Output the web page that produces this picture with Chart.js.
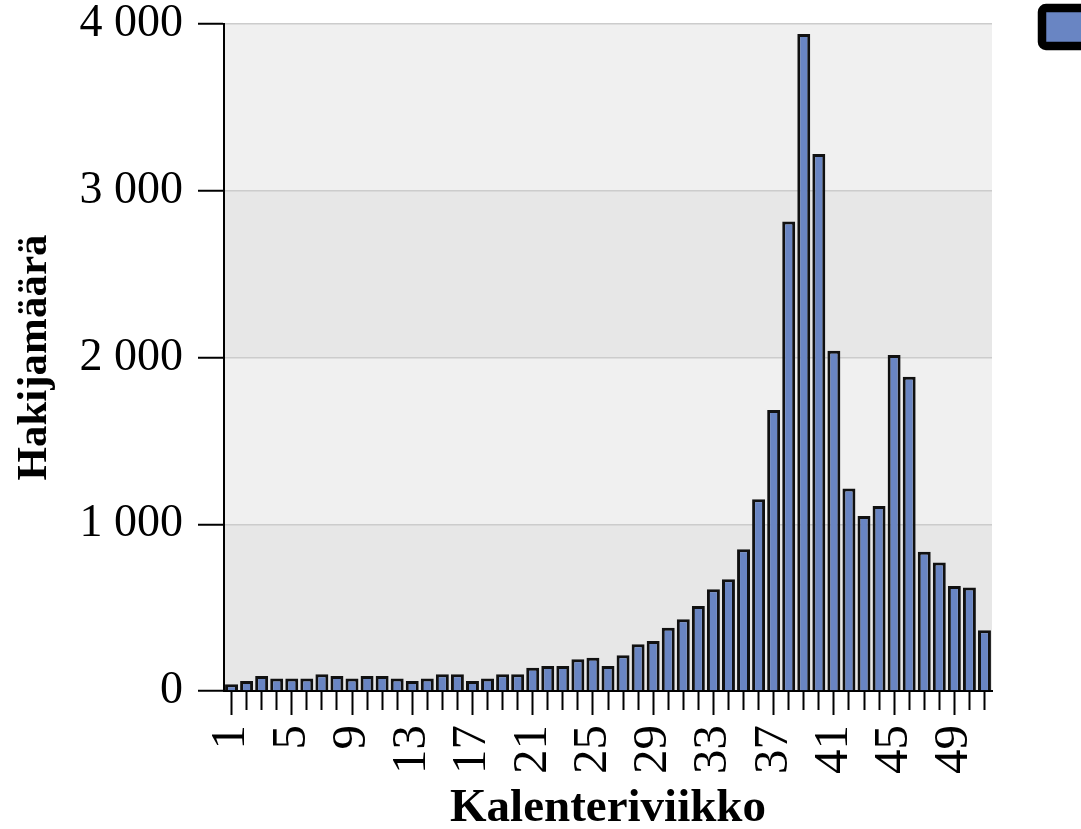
<!DOCTYPE html>
<html>
<head>
<meta charset="utf-8">
<script src="https://cdn.jsdelivr.net/npm/chart.js@4.4.0/dist/chart.umd.min.js"></script>
<style>
  html, body { margin: 0; padding: 0; background: #fff; overflow: hidden; }
  /* a bit wider than the window so the legend swatch is cut at the right edge */
  #wrap { position: relative; width: 1108px; height: 829px; }
</style>
</head>
<body>
<div id="wrap"><canvas id="chart"></canvas></div>
<script>
// calendar weeks shown on the x axis
const weeks = [1, 2, 3, 4, 5, 6, 7, 8, 9, 10, 11, 12, 13, 14, 15, 16, 17, 18, 19, 20,
               21, 22, 23, 24, 25, 26, 27, 28, 29, 30, 31, 32, 33, 34, 35, 36, 37, 38, 39, 40,
               41, 42, 43, 44, 45, 46, 47, 48, 49, 50, 51];
// applicants per week
const applicants = [40, 60, 90, 75, 75, 75, 100, 90, 75, 90, 90, 75, 60, 75, 100, 100, 60, 75, 100, 100,
                    140, 150, 150, 190, 200, 150, 215, 280, 300, 380, 430, 510, 610, 670, 850, 1150, 1685, 2815, 3940, 3220,
                    2040, 1215, 1050, 1110, 2015, 1885, 835, 770, 630, 620, 365];
const yTickValues = [0, 1000, 2000, 3000, 4000];
const yTickLabels = ['0', '1 000', '2 000', '3 000', '4 000'];
const labelEvery = 4;

const serif = '"Liberation Serif", "Times New Roman", serif';

// alternating grey bands between the y gridlines
const bandPlugin = {
    id: 'bands',
    beforeDraw(chart) {
        const { ctx, chartArea, scales } = chart;
        const y = scales.y;
        ctx.save();
        for (let i = 0; i < yTickValues.length - 1; i++) {
            const top = y.getPixelForValue(yTickValues[i + 1]);
            const bottom = y.getPixelForValue(yTickValues[i]);
            ctx.fillStyle = i % 2 === 0 ? '#e7e7e7' : '#f0f0f0';
            ctx.fillRect(chartArea.left, top, chartArea.right - chartArea.left, bottom - top);
        }
        ctx.restore();
    }
};

const ctx = document.getElementById('chart').getContext('2d');
new Chart(ctx, {
    type: 'bar',
    data: {
        labels: weeks,
        datasets: [{
            label: '',
            data: applicants,
            backgroundColor: '#6985c3',
            borderColor: '#111111',
            borderWidth: 3,
            borderSkipped: 'bottom',
            barPercentage: 0.86,
            categoryPercentage: 1.0,
        }]
    },
    options: {
        responsive: true,
        maintainAspectRatio: false,
        animation: false,
        layout: { padding: 0 },
        plugins: {
            tooltip: { enabled: false },
            legend: {
                position: 'right',
                align: 'start',
                labels: {
                    boxWidth: 50,
                    boxHeight: 38,
                    padding: 8,
                    font: { size: 12, family: serif },
                    generateLabels: chart => Chart.defaults.plugins.legend.labels.generateLabels(chart)
                        .map(item => Object.assign(item, { lineWidth: 8.5, strokeStyle: '#000', borderRadius: 4 }))
                }
            }
        },
        scales: {
            x: {
                position: 'bottom',
                offset: true,
                grid: {
                    offset: false,
                    drawOnChartArea: false,
                    tickLength: 24,
                    tickColor: '#000',
                    tickWidth: 2,
                    tickBorderDash: c => (c.index % labelEvery === 0 ? [] : [18, 40])
                },
                border: { color: '#000', width: 2 },
                ticks: {
                    autoSkip: false,
                    maxRotation: 90,
                    minRotation: 90,
                    padding: 10,
                    color: '#000',
                    font: { size: 49, family: serif },
                    callback: (v, i) => (i % labelEvery === 0 ? String(weeks[i]) : '')
                },
                title: {
                    display: true,
                    text: 'Kalenteriviikko',
                    color: '#000',
                    font: { size: 47, weight: 'bold', family: serif, lineHeight: 0.8 },
                    padding: { top: 0, bottom: 1 }
                },
                afterFit: s => { s.height = 138; }
            },
            y: {
                position: 'left',
                min: 0,
                max: 4000,
                grid: {
                    color: '#cccccc',
                    lineWidth: 1.5,
                    tickLength: 26,
                    tickColor: '#000',
                    tickWidth: 2
                },
                border: { color: '#000', width: 2 },
                ticks: {
                    stepSize: 1000,
                    padding: 15,
                    color: '#000',
                    font: { size: 46, family: serif, lineHeight: 1 },
                    callback: (v, i) => yTickLabels[i]
                },
                title: {
                    display: true,
                    text: 'Hakijamäärä',
                    color: '#000',
                    font: { size: 43, weight: 'bold', family: serif, lineHeight: 1 },
                    padding: { top: 13, bottom: 0 }
                },
                afterFit: s => { s.width = 224; s.paddingTop = 24; }
            },
            // empty spacer axis: keeps the legend swatch away from the plot
            spacer: {
                position: 'right',
                display: true,
                grid: { display: false, drawTicks: false },
                border: { display: false },
                ticks: { display: false },
                afterFit: s => { s.width = 42; }
            }
        }
    },
    plugins: [bandPlugin]
});
</script>
</body>
</html>
